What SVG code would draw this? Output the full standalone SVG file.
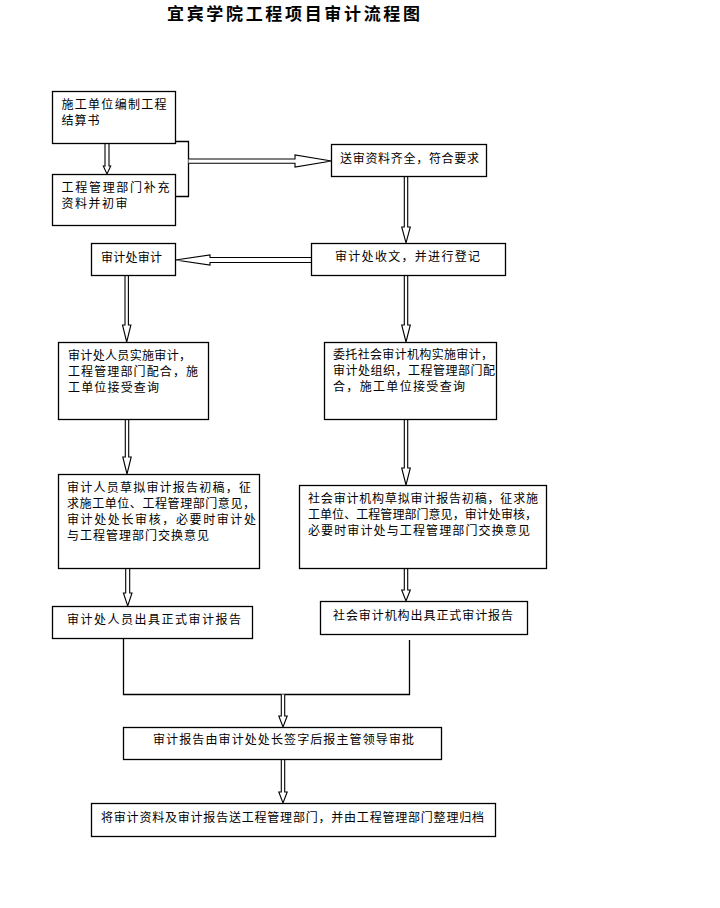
<svg xmlns="http://www.w3.org/2000/svg" width="720" height="908" viewBox="0 0 720 908">
<style>
.box{fill:#fff;stroke:#000;stroke-width:1.3}
.t{font-family:"Noto Sans CJK SC","Noto Sans",sans-serif;font-size:12px;fill:#000}
.ln{fill:none;stroke:#000;stroke-width:1.3}
.ar{fill:#fff;stroke:#000;stroke-width:1.1;stroke-linejoin:miter}
.title{font-family:"Noto Sans CJK SC","Noto Sans",sans-serif;font-size:17px;font-weight:700;fill:#000}
</style>
<rect width="720" height="908" fill="#fff"/>
<text class="title" x="167" y="20" textLength="253" lengthAdjust="spacing">宜宾学院工程项目审计流程图</text>

<g id="connectors">
  <polyline class="ln" points="176,141.5 188.5,141.5 188.5,196.5 176,196.5"/>
  <polyline class="ln" points="123.5,638 123.5,694.5 409.5,694.5 409.5,640"/>
  <polyline class="ar" points="105,143 105,166 103.3,166 107,174 110.7,166 109,166 109,143"/>
  <polyline class="ar" points="404.3,177 404.3,227 401.7,227 406,243 410.3,227 407.7,227 407.7,177"/>
  <polyline class="ar" points="125,276 125,325 122.5,325 126.7,342 130.9,325 128.4,325 128.4,276"/>
  <polyline class="ar" points="404.3,276 404.3,325 401.7,325 406,342 410.3,325 407.7,325 407.7,276"/>
  <polyline class="ar" points="125.3,419 125.3,457 122.8,457 127,474 131.2,457 128.7,457 128.7,419"/>
  <polyline class="ar" points="404.3,419 404.3,468 401.7,468 406,485 410.3,468 407.7,468 407.7,419"/>
  <polyline class="ar" points="125.7,568 125.7,593 123.4,593 127.7,606 132,593 129.7,593 129.7,568"/>
  <polyline class="ar" points="404.3,568 404.3,590 401.7,590 406,601 410.3,590 407.7,590 407.7,568"/>
  <polyline class="ar" points="281.3,694.5 281.3,716 278.8,716 283,727 287.2,716 284.7,716 284.7,694.5"/>
  <polyline class="ar" points="281.3,759 281.3,792 278.8,792 283,803 287.2,792 284.7,792 284.7,759"/>
  <polyline class="ar" points="188.5,159 295,159 295,155 331.5,161 295,167 295,163.3 188.5,163.3"/>
  <polyline class="ar" points="311.5,257.5 210,257.5 210,255 175.5,260 210,265 210,262.5 311.5,262.5"/>
</g>

<g id="n1"><rect class="box" x="52.5" y="91.5" width="123" height="52"/>
<text class="t" x="61.5" y="109" textLength="105" lengthAdjust="spacing">施工单位编制工程</text>
<text class="t" x="61.5" y="125" textLength="38" lengthAdjust="spacing">结算书</text></g>
<g id="n2"><rect class="box" x="52.5" y="174.5" width="123" height="51"/>
<text class="t" x="61.5" y="192" textLength="108" lengthAdjust="spacing">工程管理部门补充</text>
<text class="t" x="61.5" y="208" textLength="66" lengthAdjust="spacing">资料并初审</text></g>
<g id="n3"><rect class="box" x="331.5" y="144.5" width="155" height="32"/>
<text class="t" x="340" y="163" textLength="139" lengthAdjust="spacing">送审资料齐全，符合要求</text></g>
<g id="n4"><rect class="box" x="311.5" y="243.5" width="194" height="32"/>
<text class="t" x="335" y="261" textLength="145" lengthAdjust="spacing">审计处收文，并进行登记</text></g>
<g id="n5"><rect class="box" x="91.5" y="243.5" width="84" height="32"/>
<text class="t" x="101" y="262" textLength="61" lengthAdjust="spacing">审计处审计</text></g>
<g id="n6"><rect class="box" x="58.5" y="342.5" width="150" height="77"/>
<text class="t" x="68" y="360" textLength="123" lengthAdjust="spacing">审计处人员实施审计，</text>
<text class="t" x="68" y="376" textLength="130" lengthAdjust="spacing">工程管理部门配合，施</text>
<text class="t" x="68" y="392" textLength="91" lengthAdjust="spacing">工单位接受查询</text></g>
<g id="n7"><rect class="box" x="324.5" y="342.5" width="172" height="77"/>
<text class="t" x="333" y="359" textLength="160" lengthAdjust="spacing">委托社会审计机构实施审计，</text>
<text class="t" x="333" y="375" textLength="162" lengthAdjust="spacing">审计处组织，工程管理部门配</text>
<text class="t" x="333" y="391" textLength="132" lengthAdjust="spacing">合，施工单位接受查询</text></g>
<g id="n8"><rect class="box" x="58.5" y="474.5" width="201" height="94"/>
<text class="t" x="67" y="492" textLength="184" lengthAdjust="spacing">审计人员草拟审计报告初稿，征</text>
<text class="t" x="67" y="508" textLength="188" lengthAdjust="spacing">求施工单位、工程管理部门意见，</text>
<text class="t" x="67" y="524" textLength="189" lengthAdjust="spacing">审计处处长审核，必要时审计处</text>
<text class="t" x="67" y="540" textLength="142" lengthAdjust="spacing">与工程管理部门交换意见</text></g>
<g id="n9"><rect class="box" x="52.5" y="606.5" width="200" height="32"/>
<text class="t" x="67" y="624" textLength="174" lengthAdjust="spacing">审计处人员出具正式审计报告</text></g>
<g id="n10"><rect class="box" x="299.5" y="485.5" width="247" height="83"/>
<text class="t" x="308" y="503" textLength="230" lengthAdjust="spacing">社会审计机构草拟审计报告初稿，征求施</text>
<text class="t" x="308" y="519" textLength="229" lengthAdjust="spacing">工单位、工程管理部门意见，审计处审核，</text>
<text class="t" x="308" y="535" textLength="222" lengthAdjust="spacing">必要时审计处与工程管理部门交换意见</text></g>
<g id="n11"><rect class="box" x="320.5" y="601.5" width="207" height="33"/>
<text class="t" x="333" y="620" textLength="180" lengthAdjust="spacing">社会审计机构出具正式审计报告</text></g>
<g id="n12"><rect class="box" x="123.5" y="727.5" width="318" height="32"/>
<text class="t" x="153" y="744" textLength="261" lengthAdjust="spacing">审计报告由审计处处长签字后报主管领导审批</text></g>
<g id="n13"><rect class="box" x="91.5" y="803.5" width="404" height="33"/>
<text class="t" x="101" y="822" textLength="383" lengthAdjust="spacing">将审计资料及审计报告送工程管理部门，并由工程管理部门整理归档</text></g>
</svg>
